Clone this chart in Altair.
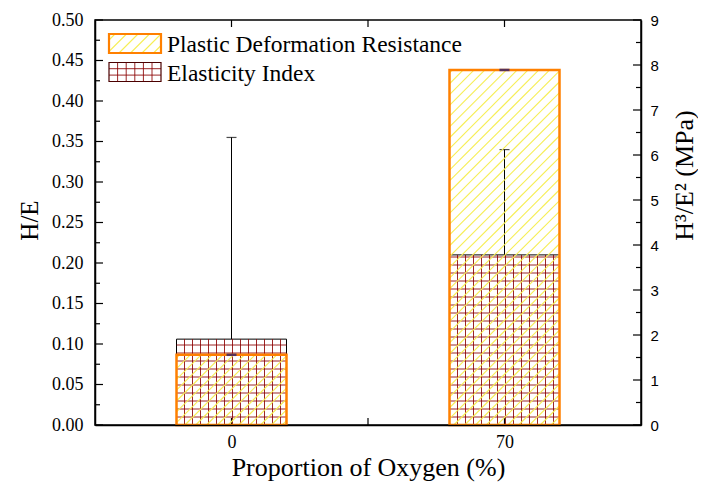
import altair as alt
import pandas as pd

# ---------------- data ----------------
oxygen = [0, 70]                      # Proportion of Oxygen (%)
elasticity_index = [0.106, 0.210]     # H/E (left axis)
elasticity_upper = [0.355, 0.340]     # upper end of H/E error bar
plastic_resistance = [1.56, 7.89]     # H^3/E^2 in MPa (right axis)
plastic_cap = [1.56, 7.89]            # error caps of H^3/E^2 (error negligible)

x_labels = [0, 70]
x_ticks = [0, 35, 70]
left_major = [round(0.05 * i, 2) for i in range(11)]
left_minor = [round(0.025 + 0.05 * i, 3) for i in range(10)]
right_major = list(range(10))
right_minor = [0.5 + i for i in range(9)]

legend_labels = ["Plastic Deformation Resistance", "Elasticity Index"]

# ---------------- layout / style constants ----------------
W, H = 546, 405
X_DOM = [-35, 105]
YL_DOM = [0, 0.5]
YR_DOM = [0, 9]
KX = W / (X_DOM[1] - X_DOM[0])
KYL = H / (YL_DOM[1] - YL_DOM[0])
KYR = H / (YR_DOM[1] - YR_DOM[0])
BAR_PX = 110
HALF = BAR_PX / 2 / KX
SERIF = "Liberation Serif"
SANS = "Liberation Sans"
ORANGE = "#FF8000"
YELLOW = "#F6EE55"
DKRED = "#8B0000"
NAVY = "#10107A"


def grid_local(w, h, sx, sy):
    segs = []
    X = sx
    while X < w - 0.5:
        segs.append((X, 0.0, X, h))
        X += sx
    Y = sy
    while Y < h - 0.5:
        segs.append((0.0, Y, w, Y))
        Y += sy
    return segs


def diag_local(w, h, step, phase=3.0):
    segs = []
    c = -h + phase
    while c < w:
        xa = max(0.0, c)
        xb = min(w, h + c)
        if xb - xa > 0.5:
            segs.append((xa, xa - c, xb, xb - c))
        c += step
    return segs


bars = pd.DataFrame({
    "oxygen": oxygen,
    "he": elasticity_index,
    "he_up": elasticity_upper,
    "pdr": plastic_resistance,
    "pdr_cap": plastic_cap,
})
bars["x_lo"] = bars["oxygen"] - HALF
bars["x_hi"] = bars["oxygen"] + HALF
bars["base"] = 0.0

# hatch segments in data space
grid_rows, diag_rows = [], []
for _, r in bars.iterrows():
    for (X1, Y1, X2, Y2) in grid_local(BAR_PX, r["he"] * KYL, 8.0, 8.0):
        grid_rows.append({"x": r["x_lo"] + X1 / KX, "x2": r["x_lo"] + X2 / KX,
                          "y": Y1 / KYL, "y2": Y2 / KYL})
    for (X1, Y1, X2, Y2) in diag_local(BAR_PX, r["pdr"] * KYR, 10.8):
        diag_rows.append({"x": r["x_lo"] + X1 / KX, "x2": r["x_lo"] + X2 / KX,
                          "y": Y1 / KYR, "y2": Y2 / KYR})
grid_df = pd.DataFrame(grid_rows)
diag_df = pd.DataFrame(diag_rows)


# legend, laid out in plot pixels and converted to the left-axis data space
def px_x(p):
    return X_DOM[0] + p / KX


def px_y(p):
    return YL_DOM[1] - p / KYL


LX0, LX1 = 14.0, 66.0
LP_Y0, LP_Y1 = 14.0, 33.0
LE_Y0, LE_Y1 = 42.5, 61.5


def seg_df(segs, x0, ybot):
    return pd.DataFrame([
        {"x": px_x(x0 + a), "y": px_y(ybot - b), "x2": px_x(x0 + c), "y2": px_y(ybot - d)}
        for (a, b, c, d) in segs
    ])


leg_box = pd.DataFrame({"x": [px_x(LX0)], "x2": [px_x(LX1)], "y": [px_y(LP_Y0)], "y2": [px_y(LP_Y1)]})
leg_box2 = pd.DataFrame({"x": [px_x(LX0)], "x2": [px_x(LX1)], "y": [px_y(LE_Y0)], "y2": [px_y(LE_Y1)]})
leg_diag = seg_df(diag_local(LX1 - LX0, LP_Y1 - LP_Y0, 11.5, phase=6.0), LX0, LP_Y1)
leg_grid = seg_df(grid_local(LX1 - LX0, LE_Y1 - LE_Y0, 8.6, 6.4), LX0, LE_Y1)
leg_text = pd.DataFrame({"x": [px_x(72.0)] * 2, "y": [px_y(31.5), px_y(60.5)], "label": legend_labels})

xs = alt.Scale(domain=X_DOM, nice=False, zero=False)
yls = alt.Scale(domain=YL_DOM, nice=False, zero=False)
yrs = alt.Scale(domain=YR_DOM, nice=False, zero=False)

x_axis = alt.Axis(values=x_labels, format="d", title="Proportion of Oxygen (%)", orient="bottom",
                  labelFont=SERIF, labelFontSize=18, labelColor="black", labelPadding=8,
                  labelBaseline="top", ticks=False, tickSize=0, grid=False, domain=True,
                  domainColor="black", domainWidth=1.5, zindex=1, titleFont=SERIF,
                  titleFontSize=26, titleFontWeight="normal", titleColor="black", titleY=50,
                  titleBaseline="alphabetic")
yl_axis = alt.Axis(values=left_major, format=".2f", title="H/E", orient="left",
                   labelFont=SERIF, labelFontSize=18, labelColor="black", labelPadding=12,
                   ticks=False, tickSize=0, grid=False, domain=True, domainColor="black",
                   domainWidth=1.5, titleFont=SERIF, titleFontSize=25,
                   titleFontWeight="normal", titleColor="black", titleAngle=270,
                   titleX=-58, titleY=200, titleAlign="center", titleBaseline="alphabetic")
yr_axis = alt.Axis(values=right_major, format="d", title="H³/E² (MPa)", orient="right",
                   labelFont=SANS, labelFontSize=15, labelColor="black", labelPadding=9,
                   ticks=False, tickSize=0, grid=False, domain=True, domainColor="black",
                   domainWidth=1.5, titleFont=SERIF, titleFontSize=26,
                   titleFontWeight="normal", titleColor="black", titleAngle=270,
                   titleX=51, titleY=155, titleAlign="center", titleBaseline="alphabetic")


def XQ(f, axis=None):
    return alt.X(f, scale=xs, axis=axis)


def YL(f, axis=None):
    return alt.Y(f, scale=yls, axis=axis)


def YR(f, axis=None):
    return alt.Y(f, scale=yrs, axis=axis)


# ---------------- H/E layers ----------------
el_bar = alt.Chart(bars).mark_rect(fill="white", stroke="black", strokeWidth=1).encode(
    x=XQ("x_lo:Q", x_axis), x2="x_hi:Q", y=YL("he:Q", yl_axis), y2="base:Q")
el_grid = alt.Chart(grid_df).mark_rule(color=DKRED, strokeWidth=1, opacity=0.85).encode(
    x=XQ("x:Q"), x2="x2:Q", y=YL("y:Q"), y2="y2:Q")
el_err = alt.Chart(bars).mark_rule(color="black", strokeWidth=1).encode(
    x=XQ("oxygen:Q"), y=YL("he:Q"), y2="he_up:Q")
el_cap = alt.Chart(bars).mark_tick(orient="horizontal", size=10, thickness=1.2, color="black").encode(
    x=XQ("oxygen:Q"), y=YL("he_up:Q"))
lt_major = alt.Chart(pd.DataFrame({"v": left_major})).mark_rule(color="black", strokeWidth=1.2).encode(
    y=YL("v:Q"), x=alt.value(0), x2=alt.value(8))
lt_minor = alt.Chart(pd.DataFrame({"v": left_minor})).mark_rule(color="black", strokeWidth=1.2).encode(
    y=YL("v:Q"), x=alt.value(0), x2=alt.value(5))
bt = alt.Chart(pd.DataFrame({"v": x_ticks})).mark_rule(color="black", strokeWidth=1.2).encode(
    x=XQ("v:Q"), y=alt.value(H - 7), y2=alt.value(H))
tt = alt.Chart(pd.DataFrame({"v": x_ticks})).mark_rule(color="black", strokeWidth=1.2).encode(
    x=XQ("v:Q"), y=alt.value(0), y2=alt.value(7))

# ---------------- H^3/E^2 layers ----------------
pd_diag = alt.Chart(diag_df).mark_rule(color=YELLOW, strokeWidth=1.1).encode(
    x=XQ("x:Q"), x2="x2:Q", y=YR("y:Q"), y2="y2:Q")
pd_bar = alt.Chart(bars).mark_rect(fill="white", fillOpacity=0, stroke=ORANGE, strokeWidth=2.5).encode(
    x=XQ("x_lo:Q"), x2="x_hi:Q", y=YR("pdr:Q", yr_axis), y2="base:Q")
pd_cap = alt.Chart(bars).mark_tick(orient="horizontal", size=10, thickness=2.5, color=NAVY).encode(
    x=XQ("oxygen:Q"), y=YR("pdr_cap:Q"))
rt_major = alt.Chart(pd.DataFrame({"v": right_major})).mark_rule(color="black", strokeWidth=1.2).encode(
    y=YR("v:Q"), x=alt.value(W - 8), x2=alt.value(W))
rt_minor = alt.Chart(pd.DataFrame({"v": right_minor})).mark_rule(color="black", strokeWidth=1.2).encode(
    y=YR("v:Q"), x=alt.value(W - 5), x2=alt.value(W))

# ---------------- legend ----------------
lg_diag = alt.Chart(leg_diag).mark_rule(color=YELLOW, strokeWidth=1.1).encode(
    x=XQ("x:Q"), x2="x2:Q", y=YL("y:Q"), y2="y2:Q")
lg_box = alt.Chart(leg_box).mark_rect(fill="white", fillOpacity=0, stroke=ORANGE, strokeWidth=2.2).encode(
    x=XQ("x:Q"), x2="x2:Q", y=YL("y:Q"), y2="y2:Q")
lg_grid = alt.Chart(leg_grid).mark_rule(color=DKRED, strokeWidth=1, opacity=0.85).encode(
    x=XQ("x:Q"), x2="x2:Q", y=YL("y:Q"), y2="y2:Q")
lg_box2 = alt.Chart(leg_box2).mark_rect(fill="white", fillOpacity=0, stroke="#4a0000", strokeWidth=1.2).encode(
    x=XQ("x:Q"), x2="x2:Q", y=YL("y:Q"), y2="y2:Q")
lg_text = alt.Chart(leg_text).mark_text(align="left", baseline="alphabetic", font=SERIF,
                                        fontSize=23.5, color="black").encode(
    x=XQ("x:Q"), y=YL("y:Q"), text="label:N")

chart = alt.layer(
    el_bar, el_grid, el_err, el_cap, lt_major, lt_minor, bt, tt,
    pd_diag, pd_bar, pd_cap, rt_major, rt_minor,
    lg_diag, lg_box, lg_grid, lg_box2, lg_text,
).resolve_scale(x="independent", y="independent").properties(
    width=W, height=H,
    autosize=alt.AutoSizeParams(type="none"),
    padding={"left": 87, "top": 12, "right": 57, "bottom": 58},
    background="white",
).configure_view(stroke="black", strokeWidth=1.5)

chart.save("out.html", embed_options={"renderer": "svg", "actions": False})
